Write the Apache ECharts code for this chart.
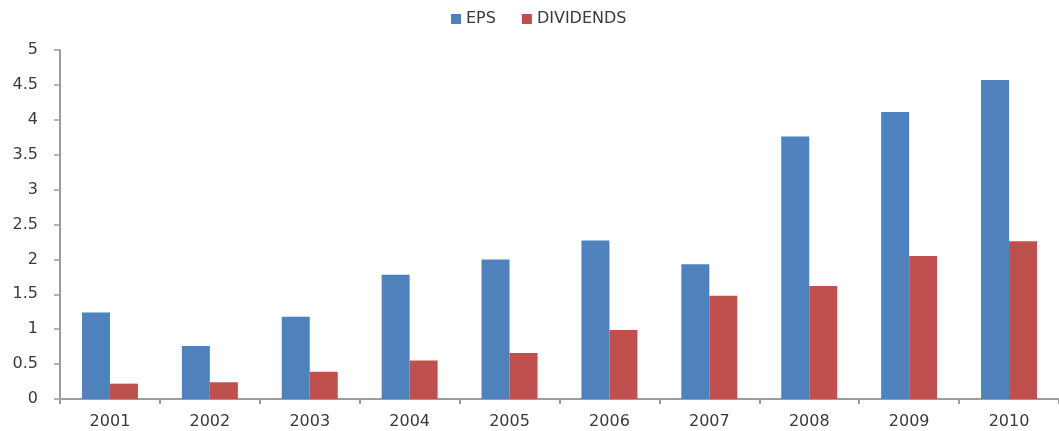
<!DOCTYPE html>
<html>
<head>
<meta charset="utf-8">
<title>EPS and Dividends</title>
<script src="https://cdn.jsdelivr.net/npm/echarts@6/dist/echarts.min.js"></script>
<style>
  html, body { margin: 0; padding: 0; background: #ffffff; }
  #chart { width: 1059px; height: 431px; }
</style>
</head>
<body>
<div id="chart"></div>
<script>
// Yearly earnings per share and dividends paid
var years = ['2001', '2002', '2003', '2004', '2005', '2006', '2007', '2008', '2009', '2010'];
var eps = [1.24, 0.76, 1.18, 1.78, 2.00, 2.27, 1.93, 3.76, 4.11, 4.57];
var dividends = [0.22, 0.24, 0.39, 0.55, 0.66, 0.99, 1.48, 1.62, 2.05, 2.26];
var yTicks = { min: 0, max: 5, step: 0.5 };

var textColor = '#3a3a3a';
var axisColor = '#9d9d9d';
var fontFamily = 'DejaVu Sans, sans-serif';

var chart = echarts.init(document.getElementById('chart'), null, { renderer: 'canvas' });

chart.setOption({
  animation: false,
  backgroundColor: '#ffffff',
  legend: {
    top: 6,
    left: 446,
    icon: 'rect',
    itemWidth: 10,
    itemHeight: 10,
    itemGap: 26,
    textStyle: { color: textColor, fontFamily: fontFamily, fontSize: 16 },
    data: ['EPS', 'DIVIDENDS']
  },
  grid: { left: 60, top: 50, width: 1005, height: 349 },
  xAxis: {
    type: 'category',
    data: years,
    axisLine: { lineStyle: { color: axisColor, width: 2 } },
    axisTick: { show: true, length: 5, lineStyle: { color: axisColor, width: 2 } },
    axisLabel: { color: textColor, fontFamily: fontFamily, fontSize: 16, margin: 15 },
    splitLine: { show: false }
  },
  yAxis: {
    type: 'value',
    min: yTicks.min,
    max: yTicks.max,
    interval: yTicks.step,
    axisLine: { show: true, lineStyle: { color: axisColor, width: 2 } },
    axisTick: { show: true, length: 6, lineStyle: { color: axisColor, width: 1.5 } },
    axisLabel: { color: textColor, fontFamily: fontFamily, fontSize: 16, margin: 22 },
    splitLine: { show: false }
  },
  series: [
    {
      name: 'EPS',
      type: 'bar',
      data: eps,
      barWidth: 28,
      barGap: '0%',
      itemStyle: { color: '#4F81BD' }
    },
    {
      name: 'DIVIDENDS',
      type: 'bar',
      data: dividends,
      barWidth: 28,
      barGap: '0%',
      itemStyle: { color: '#C0504D' }
    }
  ]
});
</script>
</body>
</html>
